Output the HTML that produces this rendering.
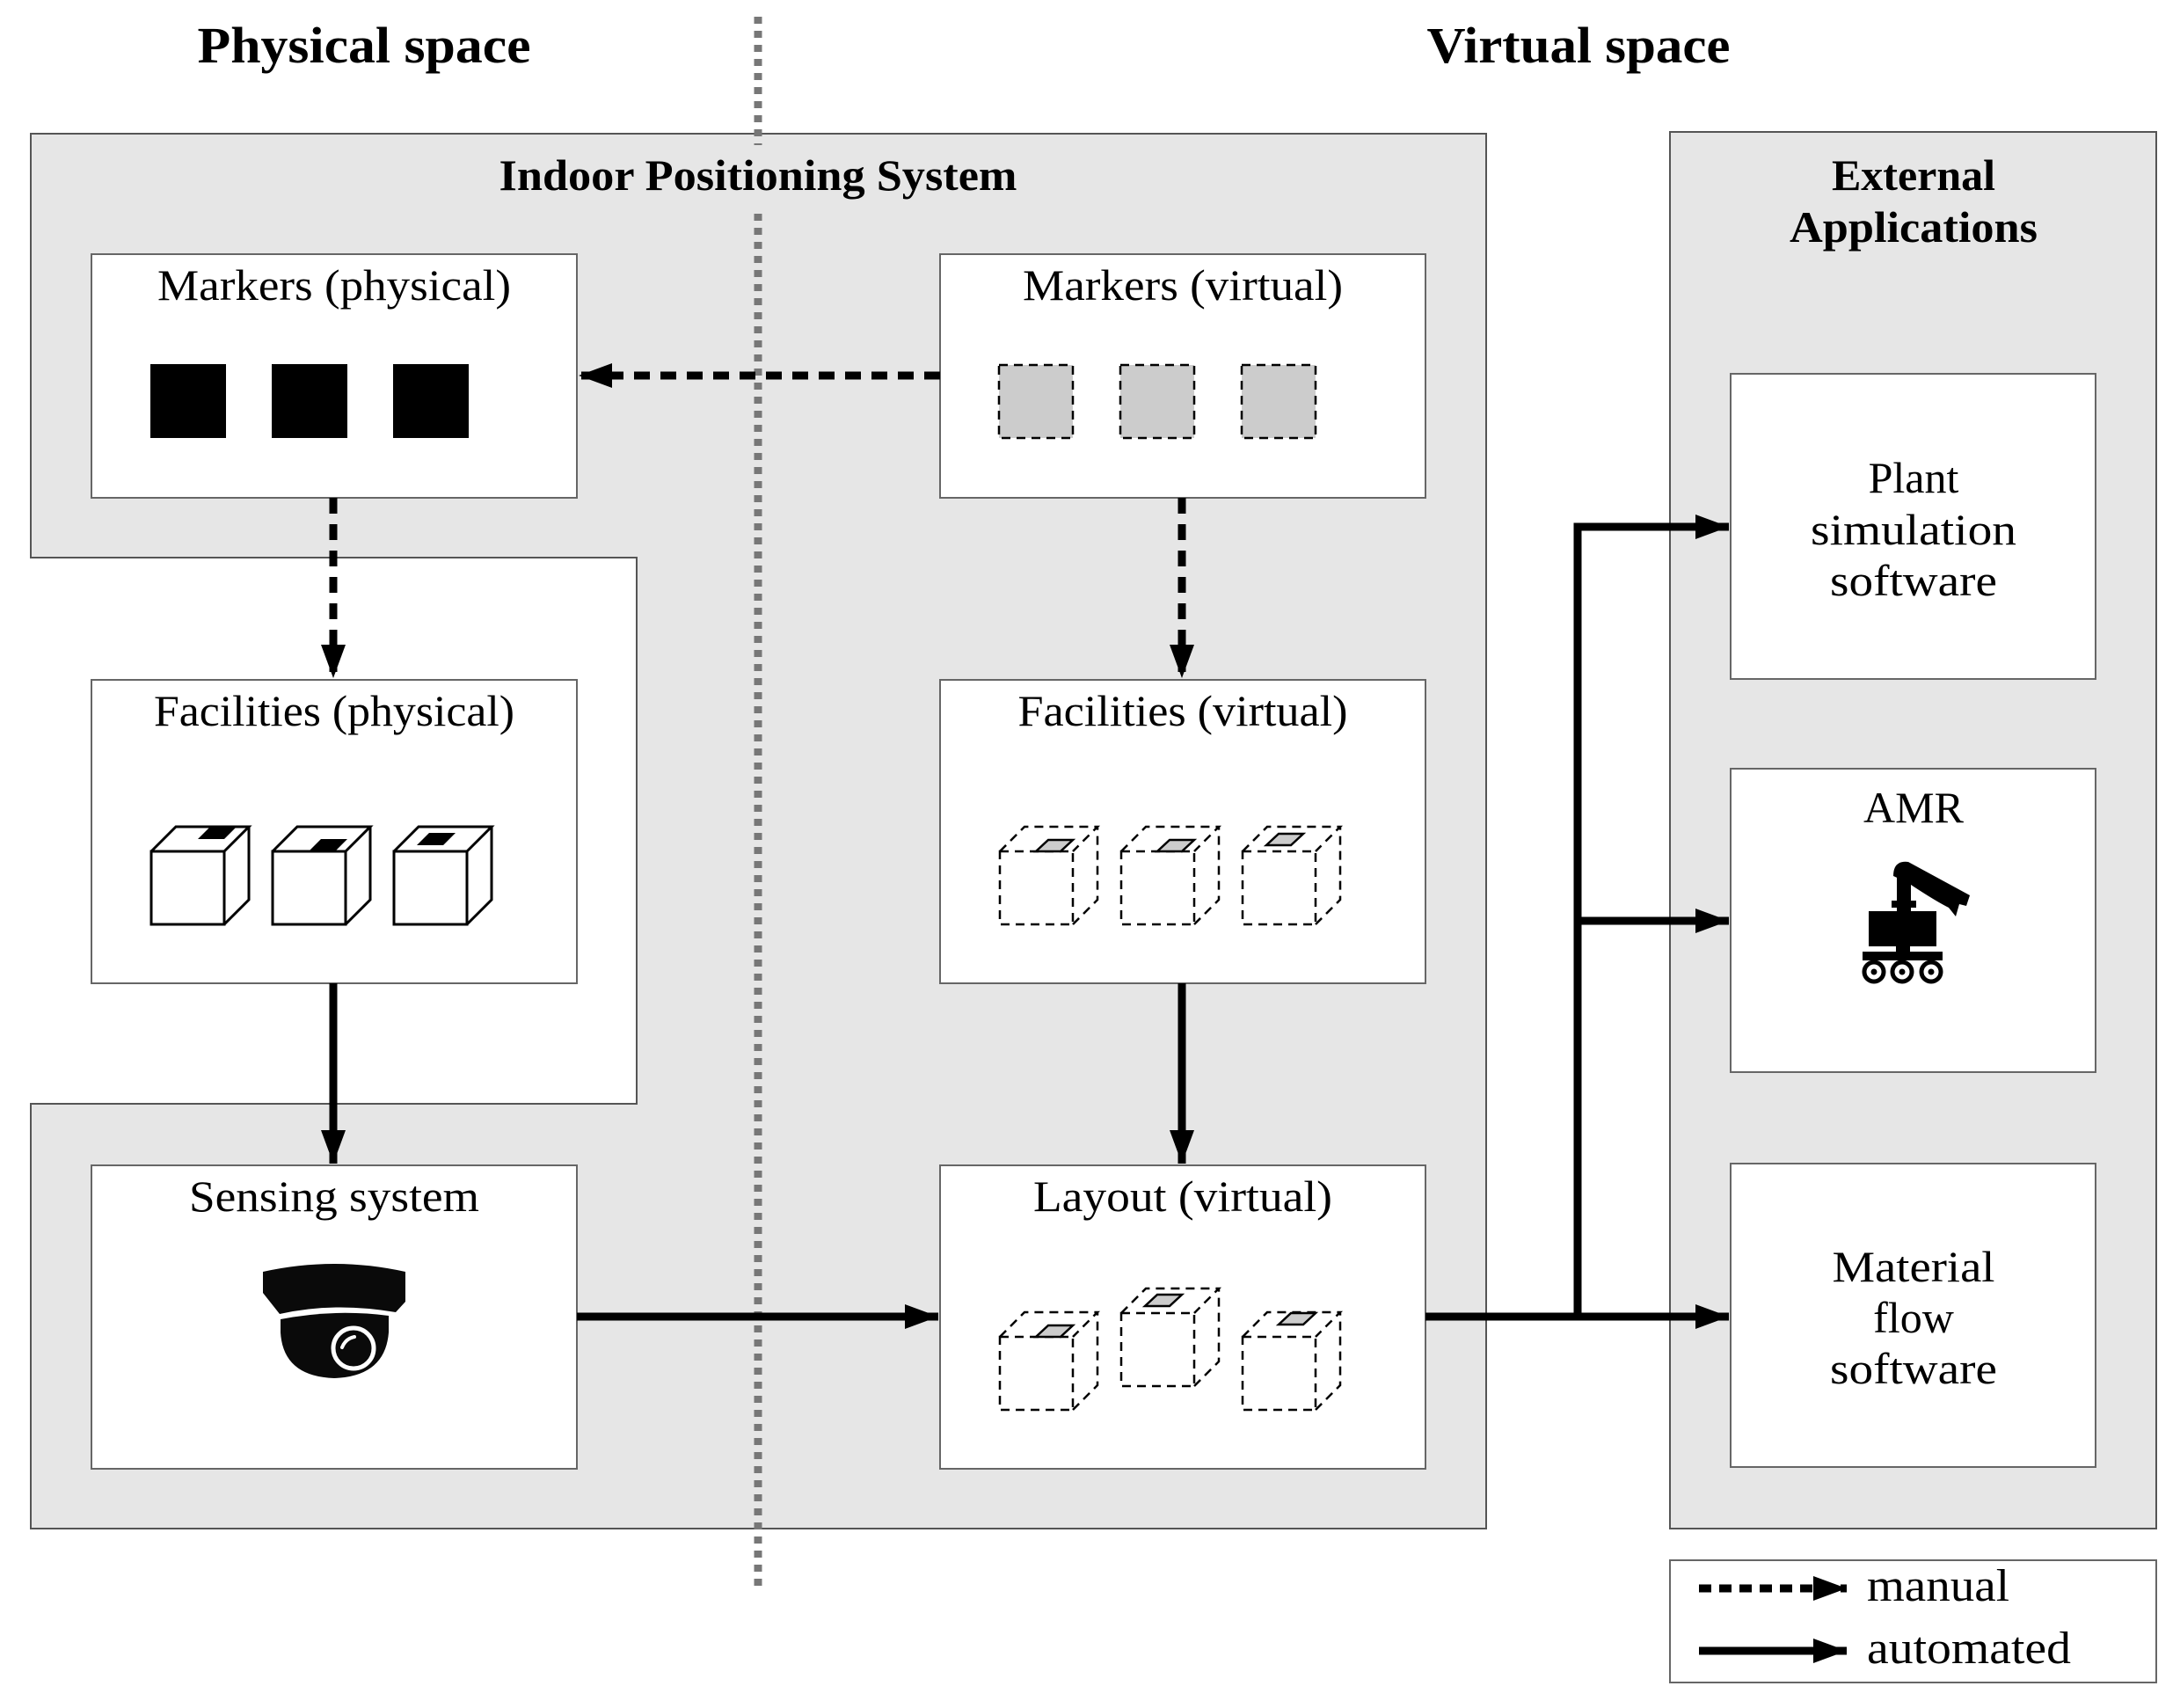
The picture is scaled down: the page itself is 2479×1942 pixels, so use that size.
<!DOCTYPE html>
<html><head><meta charset="utf-8"><style>
html,body{margin:0;padding:0;background:#fff;}
svg{display:block;}
text{font-family:"Liberation Serif",serif;fill:#000;}
</style></head><body>
<svg width="2479" height="1942" viewBox="0 0 2479 1942" xmlns="http://www.w3.org/2000/svg">
<defs>
<marker id="ah" markerUnits="userSpaceOnUse" markerWidth="40" markerHeight="30" refX="38" refY="14" orient="auto">
<path d="M0,0 L38,14 L0,28 Z" fill="#000"/>
</marker>
<g id="cubeS">
<path d="M0,0 h83 v83 h-83 Z M0,0 l28,-28 h83 l-28,28 M83,83 l28,-28 v-83" fill="#fff" stroke="#000" stroke-width="3"/>
</g>
<g id="cubeD">
<path d="M0,0 h83 v83 h-83 Z M0,0 l28,-28 h83 l-28,28 M83,83 l28,-28 v-83" fill="#fff" stroke="#000" stroke-width="2.5" stroke-dasharray="10,7"/>
</g>
</defs>

<path d="M35,152 H1690 V1738 H35 V1255 H724 V634 H35 Z" fill="#e6e6e6" stroke="#555" stroke-width="2"/>
<rect x="1899" y="150" width="553" height="1588" fill="#e6e6e6" stroke="#555" stroke-width="2"/>

<line x1="862" y1="19" x2="862" y2="1806" stroke="#777" stroke-width="9" stroke-dasharray="8,8"/>

<text x="414" y="71" font-size="58" font-weight="bold" text-anchor="middle" textLength="379" lengthAdjust="spacingAndGlyphs">Physical space</text>
<text x="1795" y="71" font-size="58" font-weight="bold" text-anchor="middle" textLength="345" lengthAdjust="spacingAndGlyphs">Virtual space</text>
<rect x="560" y="165" width="600" height="70" fill="#e6e6e6"/>
<text x="862" y="216" font-size="50" font-weight="bold" text-anchor="middle" textLength="589" lengthAdjust="spacingAndGlyphs">Indoor Positioning System</text>
<text x="2176" y="216" font-size="50" font-weight="bold" text-anchor="middle">External</text>
<text x="2176" y="275" font-size="50" font-weight="bold" text-anchor="middle" textLength="282" lengthAdjust="spacingAndGlyphs">Applications</text>

<g fill="#fff" stroke="#666" stroke-width="2">
<rect x="104" y="289" width="552" height="277"/>
<rect x="1069" y="289" width="552" height="277"/>
<rect x="104" y="773" width="552" height="345"/>
<rect x="1069" y="773" width="552" height="345"/>
<rect x="104" y="1325" width="552" height="345"/>
<rect x="1069" y="1325" width="552" height="345"/>
<rect x="1968" y="425" width="415" height="347"/>
<rect x="1968" y="874" width="415" height="345"/>
<rect x="1968" y="1323" width="415" height="345"/>
<rect x="1899" y="1774" width="553" height="139"/>
</g>

<g font-size="50" text-anchor="middle">
<text x="380" y="341" textLength="402" lengthAdjust="spacingAndGlyphs">Markers (physical)</text>
<text x="1345" y="341" textLength="364" lengthAdjust="spacingAndGlyphs">Markers (virtual)</text>
<text x="380" y="825" textLength="410" lengthAdjust="spacingAndGlyphs">Facilities (physical)</text>
<text x="1345" y="825" textLength="375" lengthAdjust="spacingAndGlyphs">Facilities (virtual)</text>
<text x="380" y="1377" textLength="330" lengthAdjust="spacingAndGlyphs">Sensing system</text>
<text x="1345" y="1377" textLength="340" lengthAdjust="spacingAndGlyphs">Layout (virtual)</text>
<text x="2176" y="560">Plant</text>
<text x="2176" y="619" textLength="234" lengthAdjust="spacingAndGlyphs">simulation</text>
<text x="2176" y="677" textLength="190" lengthAdjust="spacingAndGlyphs">software</text>
<text x="2176" y="935">AMR</text>
<text x="2176" y="1457" textLength="185" lengthAdjust="spacingAndGlyphs">Material</text>
<text x="2176" y="1515">flow</text>
<text x="2176" y="1573" textLength="190" lengthAdjust="spacingAndGlyphs">software</text>
</g>

<g fill="#000">
<rect x="171" y="414" width="86" height="84"/>
<rect x="309" y="414" width="86" height="84"/>
<rect x="447" y="414" width="86" height="84"/>
</g>
<g fill="#ccc" stroke="#000" stroke-width="2.5" stroke-dasharray="10,7">
<rect x="1136" y="415" width="84" height="83"/>
<rect x="1274" y="415" width="84" height="83"/>
<rect x="1412" y="415" width="84" height="83"/>
</g>

<use href="#cubeS" x="172" y="968"/>
<use href="#cubeS" x="310" y="968"/>
<use href="#cubeS" x="448" y="968"/>
<path d="M225,954 l14,-14 h30 l-14,14 Z M351,968 l14,-14 h30 l-14,14 Z M474,961 l14,-14 h30 l-14,14 Z" fill="#000"/>

<use href="#cubeD" x="1137" y="968"/>
<use href="#cubeD" x="1275" y="968"/>
<use href="#cubeD" x="1413" y="968"/>
<g fill="#ccc" stroke="#000" stroke-width="2.5">
<path d="M1178,968 l14,-13 h28 l-14,13 Z"/>
<path d="M1316,968 l14,-13 h28 l-14,13 Z"/>
<path d="M1440,961 l14,-13 h28 l-14,13 Z"/>
</g>

<use href="#cubeD" x="1137" y="1520"/>
<use href="#cubeD" x="1275" y="1493"/>
<use href="#cubeD" x="1413" y="1520"/>
<g fill="#ccc" stroke="#000" stroke-width="2.5">
<path d="M1178,1520 l14,-13 h28 l-14,13 Z"/>
<path d="M1302,1485 l14,-13 h28 l-14,13 Z"/>
<path d="M1454,1506 l14,-13 h28 l-14,13 Z"/>
</g>

<path d="M299,1446 Q380,1428 461,1446 V1480 L450,1492 Q380,1480 318,1494 L299,1470 Z" fill="#0a0a0a"/>
<path d="M319,1500 Q380,1488 442,1496 V1515 Q438,1565 380,1567 Q322,1565 319,1515 Z" fill="#0a0a0a"/>
<circle cx="402" cy="1533" r="23" fill="none" stroke="#fff" stroke-width="5"/>
<path d="M389,1532 Q393,1522 403,1520" fill="none" stroke="#fff" stroke-width="4" stroke-linecap="round"/>

<g fill="#000">
<rect x="2125" y="1036" width="77" height="40"/>
<rect x="2157" y="988" width="16" height="52"/>
<rect x="2151" y="1024" width="28" height="8"/>
<path d="M2153,996 Q2153,978 2170,980 L2240,1018 L2236,1030 L2228,1028 L2224,1042 L2216,1032 Q2200,1024 2170,1004 Z"/>
<rect x="2156" y="1074" width="16" height="10"/>
<rect x="2118" y="1082" width="91" height="10"/>
</g>
<g fill="#fff" stroke="#000" stroke-width="5">
<circle cx="2131" cy="1105" r="11"/><circle cx="2163" cy="1105" r="11"/><circle cx="2196" cy="1105" r="11"/>
</g>
<g fill="#000"><circle cx="2131" cy="1105" r="3.5"/><circle cx="2163" cy="1105" r="3.5"/><circle cx="2196" cy="1105" r="3.5"/></g>

<g stroke="#000" stroke-width="9" stroke-dasharray="18,12" fill="none">
<line x1="1069" y1="427" x2="658" y2="427" marker-end="url(#ah)"/>
<line x1="379" y1="566" x2="379" y2="771" marker-end="url(#ah)"/>
<line x1="1344" y1="566" x2="1344" y2="771" marker-end="url(#ah)"/>
</g>
<g stroke="#000" stroke-width="9" fill="none">
<line x1="379" y1="1118" x2="379" y2="1323" marker-end="url(#ah)"/>
<line x1="1344" y1="1118" x2="1344" y2="1323" marker-end="url(#ah)"/>
<line x1="656" y1="1497" x2="1067" y2="1497" marker-end="url(#ah)"/>
<line x1="1621" y1="1497" x2="1966" y2="1497" marker-end="url(#ah)"/>
<polyline points="1794,1497 1794,599 1966,599" marker-end="url(#ah)"/>
<line x1="1794" y1="1047" x2="1966" y2="1047" marker-end="url(#ah)"/>
</g>

<line x1="1932" y1="1806" x2="2100" y2="1806" stroke="#000" stroke-width="9" stroke-dasharray="14,9" marker-end="url(#ah)"/>
<line x1="1932" y1="1877" x2="2100" y2="1877" stroke="#000" stroke-width="9" marker-end="url(#ah)"/>
<text x="2123" y="1820" font-size="52" textLength="162" lengthAdjust="spacingAndGlyphs">manual</text>
<text x="2123" y="1891" font-size="52" textLength="232" lengthAdjust="spacingAndGlyphs">automated</text>
</svg>
</body></html>
